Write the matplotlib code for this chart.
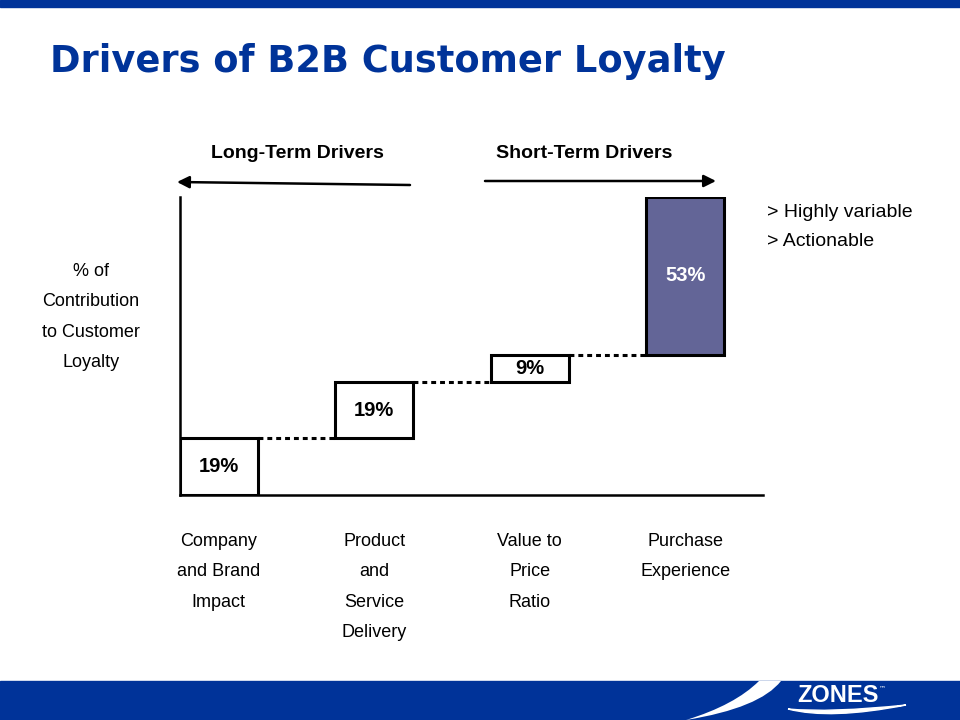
import matplotlib
matplotlib.use("Agg")
import matplotlib.pyplot as plt
from matplotlib.patches import Rectangle, PathPatch, FancyArrowPatch
from matplotlib.path import Path

# ---- data ----
categories = ["Company\nand Brand\nImpact", "Product\nand\nService\nDelivery",
              "Value to\nPrice\nRatio", "Purchase\nExperience"]
values = [19, 19, 9, 53]
value_labels = ["19%", "19%", "9%", "53%"]
title = "Drivers of B2B Customer Loyalty"
ylabel = "% of\nContribution\nto Customer\nLoyalty"
notes = ["> Highly variable", "> Actionable"]
group_labels = ["Long-Term Drivers", "Short-Term Drivers"]

NARROW = ["Liberation Sans Narrow", "Liberation Sans", "DejaVu Sans"]
BLUE = "#003399"
W, H = 960, 720

def fx(px):
    return px / W

def fy(py):
    return 1 - py / H

fig = plt.figure(figsize=(9.6, 7.2), dpi=100)
fig.patch.set_facecolor("white")

# bands
fig.patches.append(Rectangle((0, fy(7)), 1, 7 / H, transform=fig.transFigure,
                             color=BLUE, zorder=0))
fig.patches.append(Rectangle((0, 0), 1, 39 / H, transform=fig.transFigure,
                             color=BLUE, zorder=0))
# white swoosh on bottom band
verts = [(fx(686), fy(720)), (fx(735), fy(705)), (fx(759), fy(681)),
         (fx(781), fy(681)), (fx(760), fy(708)), (fx(686), fy(720)),
         (fx(686), fy(720))]
codes = [Path.MOVETO, Path.CURVE3, Path.CURVE3, Path.LINETO,
         Path.CURVE3, Path.CURVE3, Path.CLOSEPOLY]
fig.patches.append(PathPatch(Path(verts, codes), transform=fig.transFigure,
                             facecolor="white", edgecolor="none", zorder=1))
# logo
fig.text(fx(838), fy(696), "ZONES", color="white", fontsize=17, fontweight="bold",
         family=NARROW, ha="center", va="center", zorder=3)
fig.text(fx(883), fy(688), "™", color="white", fontsize=5, ha="center",
         va="center", zorder=3)
lv = [(fx(788), fy(709)), (fx(830), fy(720)), (fx(906), fy(705)),
      (fx(830), fy(713)), (fx(788), fy(709)), (fx(788), fy(709))]
lc = [Path.MOVETO, Path.CURVE3, Path.CURVE3, Path.CURVE3, Path.CURVE3,
      Path.CLOSEPOLY]
fig.patches.append(PathPatch(Path(lv, lc), transform=fig.transFigure,
                             facecolor="white", edgecolor="white", lw=1.0,
                             zorder=3))

# title
fig.text(fx(50), fy(62), title, color=BLUE, fontsize=26.5, fontweight="bold",
         family="DejaVu Sans", ha="left", va="center")

# axes
ax = fig.add_axes([fx(180), fy(495), fx(763) - fx(180), (495 - 197) / H])
ax.set_xlim(-0.25, 3.5)
ax.set_ylim(0, 100)
for s in ["top", "right"]:
    ax.spines[s].set_visible(False)
for s in ["left", "bottom"]:
    ax.spines[s].set_linewidth(1.8)
    ax.spines[s].set_color("black")
ax.set_xticks([])
ax.set_yticks([])
ax.patch.set_alpha(0)

x = list(range(len(values)))
bottoms = [sum(values[:i]) for i in range(len(values))]
tops = [b + v for b, v in zip(bottoms, values)]
colors = ["white", "white", "white", "#636597"]
ax.bar(x, values, bottom=bottoms, width=0.5, color=colors, edgecolor="black",
       linewidth=2.2, zorder=3)
for i, (b, v, lab) in enumerate(zip(bottoms, values, value_labels)):
    ax.text(i, b + v / 2, lab, ha="center", va="center", fontsize=14.5,
            fontweight="bold", family=NARROW,
            color="white" if i == len(values) - 1 else "black", zorder=4)
for i in range(len(values) - 1):
    ax.plot([x[i] + 0.25, x[i + 1] - 0.25], [tops[i], tops[i]], color="black",
            lw=2.2, ls=(0, (1.6, 1.3)), zorder=2)

# category labels
for i, cat in enumerate(categories):
    ax.annotate(cat, xy=(i, 0), xycoords="data", xytext=(0, -27),
                textcoords="offset points", ha="center", va="top",
                fontsize=13, family=NARROW, linespacing=2.05)

# y label
fig.text(fx(91), fy(317), ylabel, ha="center", va="center", fontsize=13,
         family=NARROW, linespacing=2.05)

# notes
for j, n in enumerate(notes):
    fig.text(fx(767), fy(212 + 30 * j), n, ha="left", va="center", fontsize=14,
             family=NARROW)

# group labels and arrows
fig.text(fx(297), fy(153), group_labels[0], ha="center", va="center",
         fontsize=14, fontweight="bold", family=NARROW)
fig.text(fx(584), fy(153), group_labels[1], ha="center", va="center",
         fontsize=14, fontweight="bold", family=NARROW)
arrow = dict(arrowstyle="-|>", color="black", lw=1.8, mutation_scale=18,
             shrinkA=0, shrinkB=0)
fig.add_artist(FancyArrowPatch(
    (fx(410), fy(185)), (fx(177), fy(182)), transform=fig.transFigure, **arrow))
fig.add_artist(FancyArrowPatch(
    (fx(485), fy(181)), (fx(716), fy(181)), transform=fig.transFigure, **arrow))

fig.savefig("out.png", dpi=100)
